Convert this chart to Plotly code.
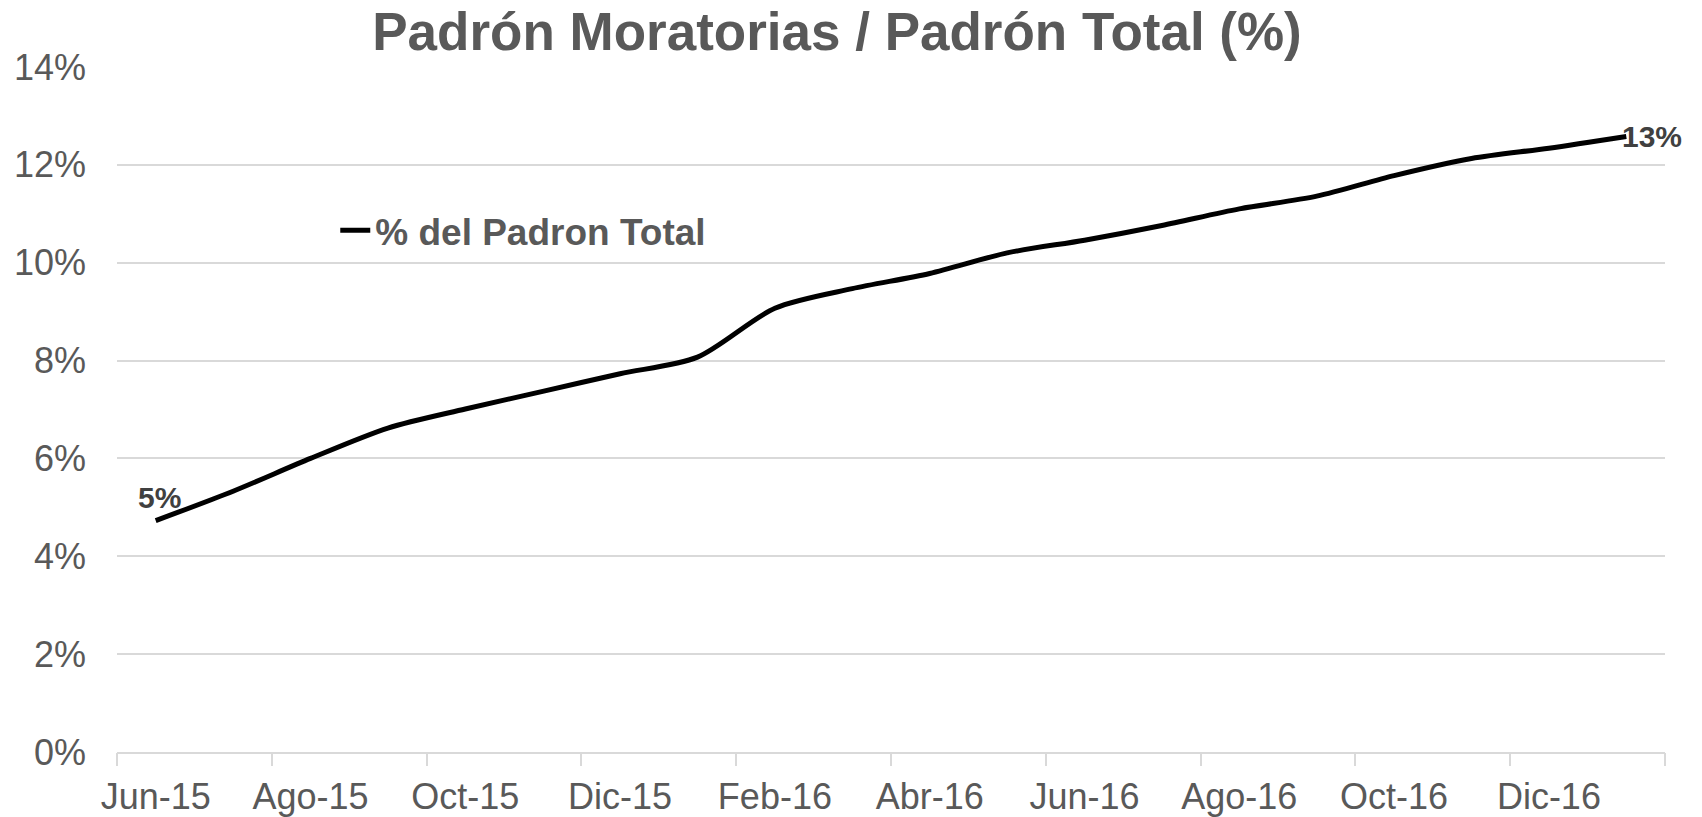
import plotly.graph_objs as go

# monthly share of the moratorium roll in the total roll (%)
months = ['Jun-15', 'Jul-15', 'Ago-15', 'Sep-15', 'Oct-15', 'Nov-15', 'Dic-15',
          'Ene-16', 'Feb-16', 'Mar-16', 'Abr-16', 'May-16', 'Jun-16', 'Jul-16',
          'Ago-16', 'Sep-16', 'Oct-16', 'Nov-16', 'Dic-16', 'Ene-17']
pct_padron = [4.73, 5.33, 6.00, 6.62, 7.01, 7.37, 7.73, 8.07, 9.07, 9.47,
              9.78, 10.20, 10.46, 10.76, 11.10, 11.36, 11.78, 12.13, 12.34, 12.58]
y_ticks = [0, 2, 4, 6, 8, 10, 12, 14]

FONT = 'Liberation Sans, Arial, sans-serif'
GRAY = '#595959'
GRID = '#d9d9d9'

idx = list(range(len(months)))
n = len(months)

line = go.Scatter(
    x=idx,
    y=pct_padron,
    mode='lines',
    name='<b>% del Padron Total</b>',
    line=dict(color='black', width=5, shape='spline', smoothing=0.8),
    hoverinfo='skip',
)

# invisible helper trace so the tick-mark axis gets drawn
ticks_helper = go.Scatter(
    x=idx, y=pct_padron, xaxis='x2', mode='lines',
    line=dict(color='rgba(0,0,0,0)'), showlegend=False, hoverinfo='skip',
)

fig = go.Figure([line, ticks_helper])

# page body has an 8px margin, so the figure is shifted by 8px
fig.update_layout(
    width=1686, height=809,
    margin=dict(l=109, r=29, t=58, b=65),
    paper_bgcolor='white', plot_bgcolor='white',
    font=dict(family=FONT, color=GRAY),
    title=dict(
        text='<b>Padrón Moratorias / Padrón Total (%)</b>',
        font=dict(size=53, color=GRAY, family=FONT),
        xref='container', x=0.4917, xanchor='center',
        yref='container', y=1 - 23 / 809, yanchor='middle',
    ),
    xaxis=dict(
        range=[-0.5, n - 0.5],
        tickmode='array',
        tickvals=idx[::2],
        ticktext=months[::2],
        ticks='',
        showgrid=False,
        zeroline=False,
        showline=True, linecolor=GRID, linewidth=1.5,
        tickfont=dict(size=36, color=GRAY),
        ticklabelstandoff=12,
        automargin=False,
    ),
    xaxis2=dict(
        overlaying='x',
        range=[-0.5, n - 0.5],
        tickmode='array',
        tickvals=[i - 0.5 for i in range(0, n + 1, 2)],
        ticks='outside', ticklen=13, tickcolor=GRID, tickwidth=1.5,
        showticklabels=False,
        showgrid=False, zeroline=False, showline=False,
        anchor='y', side='bottom',
    ),
    yaxis=dict(
        range=[0, 14.02],
        tickmode='array',
        tickvals=y_ticks,
        ticktext=['%d%%' % v for v in y_ticks],
        showgrid=True, gridcolor=GRID, gridwidth=1.5,
        zeroline=False,
        showline=False,
        ticks='',
        tickfont=dict(size=36, color=GRAY),
        ticklabelstandoff=30,
        automargin=False,
    ),
    legend=dict(
        x=0.141, y=0.76, xanchor='left', yanchor='middle',
        bgcolor='rgba(0,0,0,0)',
        font=dict(size=37, color=GRAY, family=FONT),
    ),
    showlegend=True,
)

# data labels at first and last points
fig.add_annotation(x=idx[0], y=pct_padron[0], text='<b>%d%%</b>' % round(pct_padron[0]),
                   showarrow=False, xanchor='center', yanchor='bottom', yshift=5, xshift=4,
                   font=dict(size=30, color='#404040', family=FONT))
fig.add_annotation(x=idx[-1], y=pct_padron[-1], text='<b>%d%%</b>' % round(pct_padron[-1]),
                   showarrow=False, xanchor='left', yanchor='middle', xshift=-6,
                   font=dict(size=30, color='#404040', family=FONT))

fig.write_html("out.html")
